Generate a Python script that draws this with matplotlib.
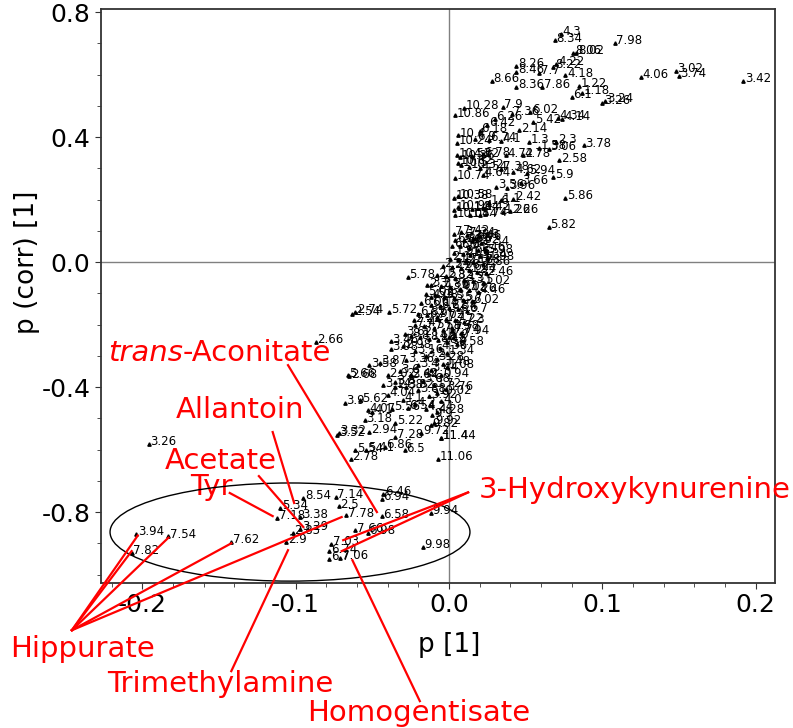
import matplotlib
matplotlib.use("Agg")
import matplotlib.pyplot as plt
from matplotlib.patches import Ellipse
from matplotlib.ticker import MultipleLocator

# positively correlated bins (upper right arm)
upper_labels = ["4.3", "8.34", "8.06", "8.02", "7.98", "8.26", "4.22", "8.22", "8.46", "7.7",
                "4.18", "8.66", "8.36", "7.86", "1.22", "6.1", "1.18", "3.26", "3.24", "4.06",
                "3.02", "3.74", "3.42", "10.28", "7.9", "10.86", "7.36", "6.02", "4.34", "4.14",
                "5.42", "2.14", "6.26", "6.42", "6.18", "10.4", "10.24", "6.9", "6.74", "4.1",
                "1.3", "1.58", "3.06", "2.3", "3.78", "10.52", "10.36", "4.32", "6.78", "4.72",
                "4.78", "2.58", "10.62", "10.5", "10.32", "4.54", "10.74", "4.64", "7.38", "4.62",
                "5.94", "5.9", "3.66", "3.56", "3.96", "10.38", "10.58", "1.1", "1.6", "2.42",
                "5.86", "10.14", "10.94", "1.34", "1.42", "2.26", "1.26", "10.04", "1.54", "1.74",
                "5.82", "8.3"]
upper_p = [0.073, 0.069, 0.081, 0.083, 0.108, 0.044, 0.070, 0.068, 0.044, 0.059,
           0.076, 0.028, 0.044, 0.061, 0.085, 0.080, 0.087, 0.100, 0.102, 0.125,
           0.148, 0.150, 0.192, 0.010, 0.035, 0.004, 0.041, 0.053, 0.071, 0.074,
           0.055, 0.046, 0.030, 0.025, 0.020, 0.006, 0.005, 0.017, 0.026, 0.034,
           0.052, 0.059, 0.065, 0.070, 0.088, 0.005, 0.007, 0.015, 0.022, 0.037,
           0.048, 0.072, 0.006, 0.008, 0.013, 0.020, 0.004, 0.022, 0.034, 0.042,
           0.051, 0.068, 0.047, 0.031, 0.038, 0.003, 0.006, 0.034, 0.026, 0.042,
           0.076, 0.003, 0.006, 0.015, 0.022, 0.040, 0.035, 0.004, 0.014, 0.020,
           0.065, 0.020]
upper_pcorr = [0.730, 0.710, 0.669, 0.669, 0.701, 0.627, 0.634, 0.624, 0.608, 0.605,
               0.598, 0.579, 0.560, 0.560, 0.563, 0.528, 0.541, 0.509, 0.515, 0.592,
               0.611, 0.595, 0.579, 0.493, 0.496, 0.470, 0.474, 0.480, 0.461, 0.458,
               0.448, 0.422, 0.458, 0.440, 0.420, 0.406, 0.381, 0.395, 0.392, 0.388,
               0.384, 0.365, 0.362, 0.384, 0.374, 0.342, 0.335, 0.340, 0.345, 0.342,
               0.342, 0.326, 0.318, 0.312, 0.305, 0.300, 0.269, 0.280, 0.298, 0.288,
               0.285, 0.272, 0.253, 0.240, 0.238, 0.205, 0.210, 0.198, 0.190, 0.202,
               0.205, 0.168, 0.175, 0.170, 0.172, 0.163, 0.160, 0.150, 0.150, 0.152,
               0.112, 0.083]

# dense centre of the S
mid_labels = ["7.3", "7.42", "7.34", "7.46", "6.86", "7.06", "6.62", "2.34", "6.38", "6.3",
              "7.5", "1.46", "5.98", "1.9", "2.06", "1.5", "3.34", "1.98", "2.1", "1.7",
              "2.18", "1.78", "1.86", "2.34", "2.38", "2.62", "1.94", "2.7", "2.46", "2.5",
              "2.82", "3.1", "3.3", "3.5", "1.02", "3.7", "3.86", "3.9", "4.02", "4.26",
              "4.46", "5.02", "5.1", "5.3", "5.5", "5.7", "6.02", "6.06", "6.14", "6.22",
              "6.34", "6.5", "6.7", "6.82", "6.9", "7.02", "7.1", "7.22", "7.3", "7.4",
              "7.5", "7.58", "7.7", "7.74", "7.94", "8.1", "8.14", "8.18", "8.42", "8.5",
              "8.58", "1.38", "1.0", "4.36", "1.34", "1.08", "0.94", "2.98", "3.16", "3.2",
              "3.28", "3.36", "3.4", "3.44", "3.48", "3.6", "3.64", "3.68", "3.72", "3.76",
              "3.8", "3.82", "3.88", "3.92", "4.0", "4.04", "4.1", "4.2", "4.24", "4.28"]
mid_p = [0.003, 0.008, 0.012, 0.016, 0.004, 0.010, 0.015, 0.021, 0.002, 0.007,
         0.013, 0.019, 0.024, 0.003, 0.009, 0.014, 0.020, 0.025, 0.001, 0.006,
         0.011, 0.016, 0.022, -0.004, 0.002, 0.008, 0.013, 0.018, 0.024, -0.008,
         -0.002, 0.004, 0.010, 0.016, 0.022, -0.012, -0.005, 0.001, 0.007, 0.013,
         0.019, -0.015, -0.009, -0.003, 0.003, 0.009, 0.015, -0.018, -0.012, -0.006,
         0.000, 0.006, 0.012, -0.020, -0.014, -0.008, -0.002, 0.004, 0.010, -0.022,
         -0.016, -0.010, -0.004, 0.002, 0.008, -0.025, -0.019, -0.013, -0.007, -0.001,
         0.005, 0.002, 0.000, -0.006, -0.001, -0.001, -0.005, -0.030, -0.022, -0.015,
         -0.008, -0.028, -0.020, -0.012, -0.004, -0.032, -0.025, -0.017, -0.010, -0.002,
         -0.035, -0.028, -0.020, -0.013, -0.005, -0.040, -0.030, -0.022, -0.015, -0.008]
mid_pcorr = [0.090, 0.095, 0.088, 0.078, 0.070, 0.072, 0.066, 0.060, 0.052, 0.050,
             0.046, 0.040, 0.035, 0.030, 0.027, 0.024, 0.018, 0.012, 0.010, 0.006,
             0.003, 0.000, -0.006, -0.012, -0.016, -0.020, -0.026, -0.032, -0.036, -0.042,
             -0.046, -0.050, -0.056, -0.062, -0.066, -0.072, -0.076, -0.081, -0.086, -0.091,
             -0.096, -0.101, -0.106, -0.111, -0.116, -0.121, -0.126, -0.132, -0.136, -0.141,
             -0.146, -0.151, -0.156, -0.166, -0.171, -0.176, -0.181, -0.186, -0.191, -0.201,
             -0.206, -0.211, -0.216, -0.221, -0.226, -0.236, -0.241, -0.246, -0.251, -0.256,
             -0.261, -0.211, -0.240, -0.275, -0.291, -0.336, -0.362, -0.270, -0.285, -0.300,
             -0.310, -0.315, -0.330, -0.345, -0.325, -0.350, -0.365, -0.380, -0.395, -0.405,
             -0.385, -0.400, -0.410, -0.430, -0.445, -0.425, -0.440, -0.455, -0.470, -0.480]

# negatively correlated bins (lower left arm)
lower_labels = ["5.78", "2.3", "2.54", "2.74", "5.72", "4.08", "2.22", "3.62", "3.46", "3.98",
                "2.66", "3.58", "3.87", "5.66", "2.68", "2.02", "2.42", "3.14", "2.38", "10.02",
                "3.9", "5.62", "4.07", "4.1", "5.56", "6.54", "9.9", "5.22", "3.18", "9.82",
                "9.92", "3.32", "3.52", "2.94", "7.28", "9.72", "11.44", "11.4", "5.54", "5.41",
                "6.86", "6.5", "2.78", "11.06", "3.26", "8.54", "7.14", "2.5", "6.46", "6.94",
                "5.34", "7.78", "6.58", "7.18", "3.38", "9.94", "7.66", "6.98", "2.83", "3.29",
                "2.9", "7.62", "3.94", "7.54", "7.82", "7.03", "6.74", "6.7", "7.06", "9.98"]
lower_p = [-0.027, -0.014, -0.063, -0.061, -0.039, -0.012, -0.023, -0.029, -0.038, -0.038,
           -0.087, -0.052, -0.045, -0.066, -0.065, -0.040, -0.025, -0.043, -0.035, -0.008,
           -0.068, -0.058, -0.053, -0.050, -0.037, -0.027, -0.011, -0.035, -0.055, -0.012,
           -0.010, -0.072, -0.073, -0.052, -0.035, -0.018, -0.005, -0.005, -0.061, -0.054,
           -0.042, -0.029, -0.064, -0.007, -0.196, -0.095, -0.074, -0.072, -0.043, -0.044,
           -0.110, -0.067, -0.044, -0.112, -0.097, -0.012, -0.061, -0.053, -0.102, -0.097,
           -0.106, -0.142, -0.204, -0.183, -0.207, -0.077, -0.078, -0.078, -0.071, -0.017]
lower_pcorr = [-0.048, -0.074, -0.166, -0.160, -0.160, -0.112, -0.186, -0.230, -0.253, -0.278,
               -0.256, -0.330, -0.323, -0.362, -0.365, -0.362, -0.362, -0.394, -0.400, -0.419,
               -0.451, -0.442, -0.474, -0.480, -0.470, -0.467, -0.490, -0.515, -0.506, -0.522,
               -0.515, -0.547, -0.552, -0.544, -0.560, -0.547, -0.563, -0.562, -0.602, -0.600,
               -0.592, -0.602, -0.630, -0.630, -0.582, -0.755, -0.752, -0.781, -0.742, -0.758,
               -0.787, -0.810, -0.813, -0.819, -0.816, -0.803, -0.858, -0.867, -0.867, -0.854,
               -0.896, -0.896, -0.870, -0.877, -0.931, -0.902, -0.925, -0.950, -0.947, -0.912]

# metabolite call-outs: text anchor, then the bins each one points to
metabolites = ["Hippurate", "Trimethylamine", "Homogentisate", "Allantoin", "Acetate", "Tyr",
               "3-Hydroxykynurenine"]
metab_text_xy = [(-0.239, -1.237), (-0.149, -1.350), (-0.020, -1.443), (-0.136, -0.474),
                 (-0.149, -0.637), (-0.155, -0.720), (0.121, -0.730)]
metab_line_from = [(-0.246, -1.178), (-0.142, -1.309), (-0.019, -1.405), (-0.115, -0.544),
                   (-0.124, -0.685), (-0.143, -0.739), (0.0125, -0.737)]
metab_line_to = [[(-0.207, -0.925), (-0.203, -0.875), (-0.183, -0.882), (-0.142, -0.900),
                  (-0.070, -0.816)],
                 [(-0.105, -0.922)],
                 [(-0.063, -0.954)],
                 [(-0.101, -0.771)],
                 [(-0.095, -0.848)],
                 [(-0.115, -0.813)],
                 [(-0.069, -0.890), (-0.070, -0.925)]]
aconitate_xy = (-0.2224, -0.291)
aconitate_line = [(-0.105, -0.330), (-0.047, -0.800)]

fig = plt.figure(figsize=(7.93, 7.28), dpi=100)
ax = fig.add_axes([101 / 793, 1 - 583 / 728, 674 / 793, 574 / 728])

ax.axhline(0, color="#808080", lw=1, zorder=1)
ax.axvline(0, color="#808080", lw=1, zorder=1)

for labs, xs, ys in [(upper_labels, upper_p, upper_pcorr),
                     (mid_labels, mid_p, mid_pcorr),
                     (lower_labels, lower_p, lower_pcorr)]:
    ax.plot(xs, ys, ls="none", marker="^", ms=2.4, color="black", zorder=3)
    for lab, x, y in zip(labs, xs, ys):
        ax.annotate(lab, (x, y), xytext=(1.2, 1.5), textcoords="offset points",
                    fontsize=8.5, va="center", ha="left", color="black", zorder=3)

ax.add_patch(Ellipse((-0.1037, -0.864), 0.2348, 0.314, fill=False, ec="black", lw=1,
                     zorder=4))

red = "#ff0000"
for name, txy, start, ends in zip(metabolites, metab_text_xy, metab_line_from, metab_line_to):
    ax.text(txy[0], txy[1], name, color=red, fontsize=21, ha="center", va="center",
            clip_on=False)
    for end in ends:
        ax.plot([start[0], end[0]], [start[1], end[1]], color=red, lw=1.6,
                clip_on=False, zorder=5)

t1 = ax.text(aconitate_xy[0], aconitate_xy[1], "trans", color=red, fontsize=21,
             style="italic", ha="left", va="center")
ax.annotate("-Aconitate", xy=(1, 0), xycoords=t1, va="bottom", ha="left",
            color=red, fontsize=21)
ax.plot([p[0] for p in aconitate_line], [p[1] for p in aconitate_line], color=red,
        lw=1.6, zorder=5)

ax.set_xlim(-0.227, 0.2127)
ax.set_ylim(-1.027, 0.8096)
ax.set_xticks([-0.2, -0.1, 0.0, 0.1, 0.2])
ax.set_xticklabels(["-0.2", "-0.1", "0.0", "0.1", "0.2"])
ax.set_yticks([-0.8, -0.4, 0.0, 0.4, 0.8])
ax.set_yticklabels(["-0.8", "-0.4", "0.0", "0.4", "0.8"])
ax.xaxis.set_minor_locator(MultipleLocator(0.02))
ax.yaxis.set_minor_locator(MultipleLocator(0.1))
ax.tick_params(which="both", direction="out", labelsize=18, color="#333333")
ax.tick_params(which="major", length=4)
ax.tick_params(which="minor", length=3)
for s in ax.spines.values():
    s.set_color("#333333")
    s.set_linewidth(1.3)

fig.text(449 / 793, 1 - 645 / 728, "p [1]", fontsize=19, ha="center", va="center")
fig.text(27 / 793, 1 - 262 / 728, "p (corr) [1]", fontsize=19, ha="center", va="center",
         rotation=90)

fig.savefig("out.png", dpi=100)
